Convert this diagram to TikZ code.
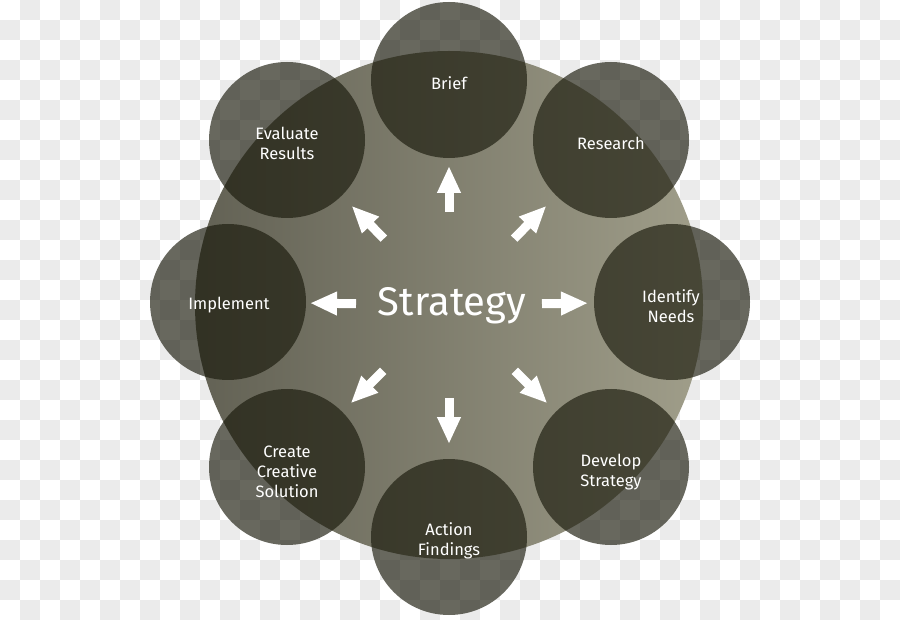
\documentclass[tikz,border=0pt]{standalone}
\usepackage{fontspec}
\setmainfont{Fira Sans}
\usetikzlibrary{calc,arrows.meta}
\definecolor{checkgrey}{RGB}{235,235,235}
\definecolor{bigleft}{RGB}{98,97,84}
\definecolor{bigright}{RGB}{160,158,138}
\definecolor{smallfill}{RGB}{26,26,12}
\tikzset{
  smallcirc/.style={circle, fill=smallfill, fill opacity=0.66, text opacity=1,
    minimum size=156pt, inner sep=0pt},
  lbl/.style={text=white, align=center, font=\fontsize{16.5}{20}\selectfont},
  bigarrow/.style={white, line width=9pt, -{Triangle[width=22pt,length=27pt]}},
}
\begin{document}
\begin{tikzpicture}[x=1pt,y=-1pt]
\useasboundingbox (0,0) rectangle (900,620);
% checkerboard background
\fill[white] (0,0) rectangle (900,620);
\foreach \i in {0,...,44}{
  \foreach \j in {0,...,30}{
    \pgfmathtruncatemacro\k{mod(\i+\j,2)}
    \ifnum\k=1
      \fill[checkgrey] (\i*20,\j*20) rectangle ++(20,20);
    \fi
  }
}
% big circle
\coordinate (o) at (449,305);
\shade[left color=bigleft, right color=bigright] (o) circle (254);
% small circles
\node[smallcirc] (brief) at (449,80) {};
\node[smallcirc] (research) at (611,140) {};
\node[smallcirc] (identify) at (672,302) {};
\node[smallcirc] (develop) at (611,467) {};
\node[smallcirc] (action) at (449,537) {};
\node[smallcirc] (create) at (287,467) {};
\node[smallcirc] (implement) at (228,302) {};
\node[smallcirc] (evaluate) at (287,140) {};
% labels
\node[lbl] (tbrief) at (449,83) {Brief};
\node[lbl] (tresearch) at (611,143) {Research};
\node[lbl] (tidentify) at (671,306) {Identify\\Needs};
\node[lbl] (tdevelop) at (611,472) {Develop\\Strategy};
\node[lbl] (taction) at (449,541) {Action\\Findings};
\node[lbl] (tcreate) at (287,472) {Create\\Creative\\Solution};
\node[lbl] (timplement) at (229,305) {Implement};
\node[lbl] (tevaluate) at (287,143) {Evaluate\\Results};
% centre text
\node[text=white, font=\fontsize{40}{44}\selectfont] (strategy) at (452,306) {Strategy};
% arrows
\foreach \t in {brief,research,identify,develop,action,create,implement,evaluate}{
  \draw[bigarrow] ($(o)!93pt!(\t)$) -- ($(o)!139pt!(\t)$);
}
\end{tikzpicture}
\end{document}
